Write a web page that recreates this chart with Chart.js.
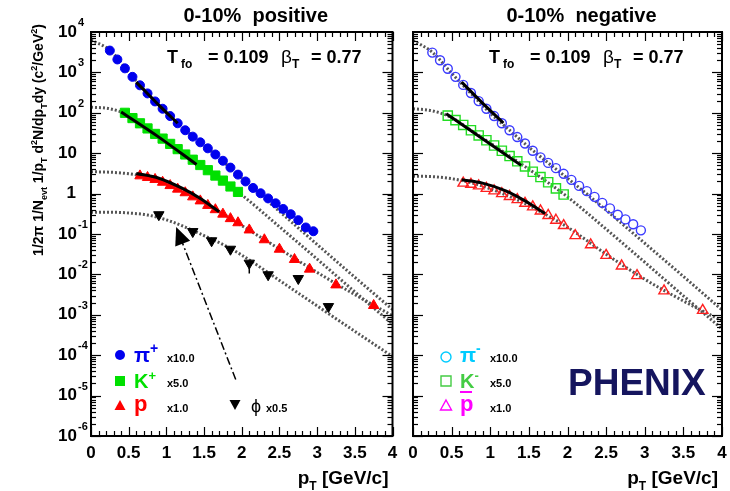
<!DOCTYPE html>
<html lang="en">
<head>
<meta charset="UTF-8">
<title>PHENIX 0-10% identified hadron spectra</title>
<script src="https://cdn.jsdelivr.net/npm/chart.js"></script>
<style>
  body { margin: 0; background: #fff; }
  #wrap { position: relative; width: 730px; height: 491px; }
  canvas { position: absolute; top: 0; }
  #posChart { left: 0; }
  #negChart { left: 400px; }
</style>
</head>
<body>
<div id="wrap">
  <canvas id="posChart" width="400" height="491"></canvas>
  <canvas id="negChart" width="330" height="491"></canvas>
</div>
<script>
// ---- data (pT in GeV/c, yields already scaled as in the legend) ----
const ptPi = [0.25, 0.35, 0.45, 0.55, 0.65, 0.75, 0.85, 0.95, 1.05, 1.15, 1.25, 1.35, 1.45, 1.55,
              1.65, 1.75, 1.85, 1.95, 2.05, 2.15, 2.25, 2.35, 2.45, 2.55, 2.65, 2.75, 2.85, 2.95];
const piPlus = [3470, 2090, 1260, 776, 479, 302, 191, 126, 83, 55, 37, 25.7, 18.6, 13.2,
                9.3, 6.5, 4.4, 2.95, 2.0, 1.38, 1.02, 0.76, 0.575, 0.417, 0.309, 0.22, 0.145, 0.117];
const piMinus = [3090, 2000, 1230, 776, 490, 309, 195, 126, 83, 55, 37, 25.1, 17.4, 11.5,
                 7.9, 5.75, 4.27, 3.09, 2.19, 1.55, 1.15, 0.83, 0.59, 0.43, 0.30, 0.23, 0.174, 0.123];

const ptK = [0.45, 0.55, 0.65, 0.75, 0.85, 0.95, 1.05, 1.15, 1.25, 1.35, 1.45, 1.55, 1.65, 1.75, 1.85, 1.95];
const kPlus = [100, 74, 55, 41, 30, 23, 17, 12.6, 9.3, 6.9, 5.1, 3.8, 2.8, 2.1, 1.5, 1.1];
const kMinus = [85, 66, 50, 37, 27.5, 20.9, 15.5, 11.5, 8.5, 6.3, 4.7, 3.47, 2.57, 1.91, 1.35, 0.95];

const ptP = [0.65, 0.75, 0.85, 0.95, 1.05, 1.15, 1.25, 1.35, 1.45, 1.55, 1.65, 1.75, 1.85, 1.95,
             2.1, 2.3, 2.5, 2.7, 2.9, 3.25, 3.75];
const proton = [2.75, 2.51, 2.24, 1.91, 1.58, 1.29, 1.05, 0.83, 0.66, 0.51, 0.40, 0.31, 0.24, 0.19,
                0.126, 0.072, 0.042, 0.0234, 0.0135, 0.0055, 0.0017];
const antiProton = [1.82, 1.70, 1.55, 1.35, 1.17, 1.0, 0.85, 0.71, 0.575, 0.468, 0.372, 0.288, 0.219, 0.162,
                    0.091, 0.054, 0.0295, 0.0162, 0.0093, 0.0039, 0.00129];

const ptPhi = [0.9, 1.35, 1.6, 1.85, 2.1, 2.35, 2.75, 3.15];
const phiMeson = [0.30, 0.115, 0.068, 0.042, 0.019, 0.0098, 0.0079, 0.0016];
const phiErrPt = [2.1, 2.1];
const phiErrY = [0.019, 0.0105];

// blast-wave curves (dotted) sampled along pT
const ptCurve = [0, 0.25, 0.5, 0.75, 1, 1.25, 1.5, 1.75, 2, 2.5, 3, 3.5, 4];
const curvePiPlus = [6300, 3550, 1000, 302, 100, 38, 15.8, 6.3, 2.4, 0.363, 0.055, 0.0085, 0.00135];
const curveKPlus = [138, 126, 87, 41, 19.5, 9.3, 4.47, 2.09, 0.93, 0.151, 0.024, 0.0037, 0.00059];
const curveProton = [3.47, 3.39, 3.09, 2.57, 1.82, 1.10, 0.60, 0.316, 0.162, 0.0427, 0.0112, 0.00316, 0.00095];
const curvePhi = [0.347, 0.347, 0.331, 0.295, 0.224, 0.148, 0.091, 0.055, 0.030, 0.0071, 0.00166, 0.00039, 0.000093];
const curvePiMinus = [6170, 3160, 955, 302, 98, 37, 14.1, 5.75, 2.4, 0.39, 0.059, 0.0089, 0.00132];
const curveKMinus = [126, 112, 76, 37, 17.8, 8.5, 4.0, 1.86, 0.83, 0.132, 0.020, 0.00295, 0.00045];
const curveAntiP = [2.69, 2.63, 2.34, 1.86, 1.32, 0.85, 0.51, 0.28, 0.148, 0.0316, 0.0076, 0.0022, 0.00071];

// fit ranges (solid black)
const fitPiPlusPt = [0.6, 0.9, 1.15];
const fitPiPlus = [575, 155, 55];
const fitKPlusPt = [0.4, 0.9, 1.4];
const fitKPlus = [105, 25, 5.25];
const fitProtonPt = [0.6, 0.9, 1.2, 1.45, 1.7];
const fitProton = [3.16, 2.4, 1.38, 0.76, 0.355];
const fitPiMinusPt = [0.63, 0.9, 1.17];
const fitPiMinus = [575, 174, 56];
const fitKMinusPt = [0.43, 0.9, 1.4];
const fitKMinus = [95, 22.9, 5.0];
const fitAntiPPt = [0.63, 0.9, 1.2, 1.45, 1.71];
const fitAntiP = [2.19, 1.82, 1.17, 0.66, 0.32];

const xTickValues = [0, 0.5, 1, 1.5, 2, 2.5, 3, 3.5, 4];
const xTickLabels = ['0', '0.5', '1', '1.5', '2', '2.5', '3', '3.5', '4'];
const yDecades = [-6, -5, -4, -3, -2, -1, 0, 1, 2, 3, 4];

// dash-dot arrow pointing at the phi spectrum (tail -> head)
const arrowPt = [1.92, 1.13];
const arrowY = [2.5e-5, 0.15];

const FONT = '"Liberation Sans", Arial, Helvetica, sans-serif';

function toPts(xs, ys) {
    return xs.map((x, i) => ({ x: x, y: ys[i] }));
}

function markers(xs, ys, style, color, filled, radius, rotation) {
    return {
        data: toPts(xs, ys),
        showLine: false,
        pointStyle: style,
        pointRadius: radius,
        pointRotation: rotation || 0,
        pointBackgroundColor: filled ? color : 'rgba(0,0,0,0)',
        pointBorderColor: color,
        pointBorderWidth: filled ? 1 : 1.4,
        order: 2
    };
}

function curve(xs, ys) {
    return {
        data: toPts(xs, ys),
        showLine: true,
        pointRadius: 0,
        borderColor: '#555',
        borderWidth: 3,
        borderDash: [2, 2],
        cubicInterpolationMode: 'monotone',
        order: 3
    };
}

function fitLine(xs, ys) {
    return {
        data: toPts(xs, ys),
        showLine: true,
        pointRadius: 0,
        borderColor: '#000',
        borderWidth: 3,
        cubicInterpolationMode: 'monotone',
        order: 1
    };
}

// text with sub/superscripts: parts = [[text, ''|'sub'|'sup'], ...]
function drawRich(ctx, x, y, parts, size, align, weight) {
    const w = weight || 'bold';
    const widths = parts.map(p => {
        ctx.font = w + ' ' + (p[1] ? Math.round(size * 0.65) : size) + 'px ' + FONT;
        return ctx.measureText(p[0]).width;
    });
    const total = widths.reduce((a, b) => a + b, 0);
    let cx = align === 'center' ? x - total / 2 : align === 'right' ? x - total : x;
    ctx.textAlign = 'left';
    parts.forEach((p, i) => {
        ctx.font = w + ' ' + (p[1] ? Math.round(size * 0.65) : size) + 'px ' + FONT;
        const dy = p[1] === 'sub' ? size * 0.3 : p[1] === 'sup' ? -size * 0.42 : 0;
        ctx.fillText(p[0], cx, y + dy);
        cx += widths[i];
    });
}

function drawMarker(ctx, kind, x, y, color, filled) {
    ctx.save();
    ctx.fillStyle = color;
    ctx.strokeStyle = color;
    ctx.lineWidth = 1.4;
    ctx.beginPath();
    if (kind === 'circle') {
        ctx.arc(x, y, 5, 0, Math.PI * 2);
    } else if (kind === 'square') {
        ctx.rect(x - 5, y - 5, 10, 10);
    } else if (kind === 'up') {
        ctx.moveTo(x, y - 6); ctx.lineTo(x + 5.5, y + 4); ctx.lineTo(x - 5.5, y + 4); ctx.closePath();
    } else {
        ctx.moveTo(x, y + 6); ctx.lineTo(x + 5.5, y - 4); ctx.lineTo(x - 5.5, y - 4); ctx.closePath();
    }
    if (filled) ctx.fill(); else ctx.stroke();
    ctx.restore();
}

function line(ctx, x1, y1, x2, y2) {
    ctx.beginPath();
    ctx.moveTo(x1, y1);
    ctx.lineTo(x2, y2);
    ctx.stroke();
}

const rootAxes = {
    id: 'rootAxes',
    afterDraw(chart, args, opts) {
        const { ctx, chartArea: a, scales: { x, y } } = chart;
        ctx.save();
        ctx.strokeStyle = '#000';
        ctx.lineWidth = 1.2;
        // x ticks, inside, top and bottom
        for (let i = 0; i <= 40; i++) {
            const px = Math.round(x.getPixelForValue(i / 10)) + 0.5;
            const len = i % 5 === 0 ? 9 : 5;
            line(ctx, px, a.bottom, px, a.bottom - len);
            line(ctx, px, a.top, px, a.top + len);
        }
        // y ticks, log decades with minor ticks
        for (let e = -6; e < 4; e++) {
            for (let m = 1; m < 10; m++) {
                const py = Math.round(y.getPixelForValue(m * Math.pow(10, e))) + 0.5;
                const len = m === 1 ? 10 : 5;
                line(ctx, a.left, py, a.left + len, py);
                line(ctx, a.right, py, a.right - len, py);
            }
        }
        ctx.lineWidth = 2;
        ctx.strokeRect(a.left, a.top, a.right - a.left, a.bottom - a.top);

        ctx.fillStyle = '#000';
        ctx.textBaseline = 'middle';
        // x tick labels
        ctx.font = 'bold 17px ' + FONT;
        ctx.textAlign = 'center';
        xTickValues.forEach((v, i) => {
            ctx.fillText(xTickLabels[i], x.getPixelForValue(v), 453);
        });
        // x title
        ctx.textBaseline = 'alphabetic';
        drawRich(ctx, a.right - 4, 484, [['p', ''], ['T', 'sub'], [' [GeV/c]', '']], 19, 'right');

        // panel title
        ctx.font = 'bold 20px ' + FONT;
        ctx.textAlign = 'center';
        ctx.textBaseline = 'middle';
        ctx.fillText(opts.title, (a.left + a.right) / 2 + 14, 16);

        // freeze-out parameters
        ctx.textBaseline = 'alphabetic';
        const tx = a.left + 76;
        drawRich(ctx, tx, 63, [['T', '']], 18, 'left');
        drawRich(ctx, tx + 14, 63, [['fo', 'sub']], 18, 'left');
        drawRich(ctx, tx + 41, 63, [['= 0.109', '']], 18, 'left');
        drawRich(ctx, tx + 114, 63, [['β', '']], 19, 'left', 'normal');
        drawRich(ctx, tx + 125, 63, [['T', 'sub']], 18, 'left');
        drawRich(ctx, tx + 144, 63, [['= 0.77', '']], 18, 'left');

        if (opts.side === 'left') {
            // y tick labels 10^n
            ctx.textBaseline = 'middle';
            yDecades.forEach(e => {
                const py = y.getPixelForValue(Math.pow(10, e));
                ctx.textAlign = 'right';
                ctx.font = 'bold 17px ' + FONT;
                if (e === 0) {
                    ctx.fillText('1', 76, py);
                } else {
                    ctx.fillText('10', 77, py);
                    if (e !== 1) {
                        ctx.textAlign = 'left';
                        ctx.font = 'bold 11px ' + FONT;
                        ctx.fillText(String(e), 78, py - 9);
                    }
                }
            });
            // y title, rotated
            ctx.save();
            ctx.translate(43, 140);
            ctx.rotate(-Math.PI / 2);
            ctx.textBaseline = 'alphabetic';
            drawRich(ctx, 0, 0, [['1/2π 1/N', ''], ['evt', 'sub'], [' 1/p', ''], ['T', 'sub'], [' d', ''],
                ['2', 'sup'], ['N/dp', ''], ['T', 'sub'], ['dy (c', ''], ['2', 'sup'], ['/GeV', ''],
                ['2', 'sup'], [')', '']], 14, 'center');
            ctx.restore();

            // dash-dot arrow towards the phi points
            const x1 = x.getPixelForValue(arrowPt[0]), y1 = y.getPixelForValue(arrowY[0]);
            const x2 = x.getPixelForValue(arrowPt[1]), y2 = y.getPixelForValue(arrowY[1]);
            const ang = Math.atan2(y2 - y1, x2 - x1);
            ctx.save();
            ctx.strokeStyle = '#000';
            ctx.lineWidth = 1.5;
            ctx.setLineDash([8, 3, 2, 3]);
            line(ctx, x1, y1, x2 - 14 * Math.cos(ang), y2 - 14 * Math.sin(ang));
            ctx.setLineDash([]);
            ctx.beginPath();
            ctx.moveTo(x2, y2);
            ctx.lineTo(x2 - 18 * Math.cos(ang) + 8 * Math.sin(ang), y2 - 18 * Math.sin(ang) - 8 * Math.cos(ang));
            ctx.lineTo(x2 - 18 * Math.cos(ang) - 8 * Math.sin(ang), y2 - 18 * Math.sin(ang) + 8 * Math.cos(ang));
            ctx.closePath();
            ctx.fillStyle = '#000';
            ctx.fill();
            ctx.restore();

            // legend
            ctx.textBaseline = 'alphabetic';
            drawMarker(ctx, 'circle', 120, 355, '#0000ee', true);
            ctx.fillStyle = '#0000ee';
            drawRich(ctx, 134, 362, [['π', ''], ['+', 'sup']], 21, 'left');
            drawMarker(ctx, 'square', 120, 381, '#00e000', true);
            ctx.fillStyle = '#00e000';
            drawRich(ctx, 134, 388, [['K', ''], ['+', 'sup']], 20, 'left');
            drawMarker(ctx, 'up', 120, 406, '#ff0000', true);
            ctx.fillStyle = '#ff0000';
            drawRich(ctx, 134, 411, [['p', '']], 22, 'left');
            drawMarker(ctx, 'down', 235, 404, '#000', true);
            ctx.fillStyle = '#000';
            drawRich(ctx, 251, 412, [['ϕ', '']], 18, 'left', 'normal');
            ctx.font = 'bold 11px ' + FONT;
            ctx.textAlign = 'left';
            ctx.fillText('x10.0', 167, 362);
            ctx.fillText('x5.0', 167, 387);
            ctx.fillText('x1.0', 167, 412);
            ctx.fillText('x0.5', 266, 412);
        } else {
            // legend
            ctx.textBaseline = 'alphabetic';
            drawMarker(ctx, 'circle', 46, 357, '#00ccff', false);
            ctx.fillStyle = '#00ccff';
            drawRich(ctx, 60, 362, [['π', ''], ['-', 'sup']], 21, 'left');
            drawMarker(ctx, 'square', 46, 381, '#44cc44', false);
            ctx.fillStyle = '#44cc44';
            drawRich(ctx, 60, 388, [['K', ''], ['-', 'sup']], 20, 'left');
            drawMarker(ctx, 'up', 46, 406, '#ff00ff', false);
            ctx.fillStyle = '#ff00ff';
            drawRich(ctx, 60, 411, [['p', '']], 22, 'left');
            ctx.fillRect(60, 391, 12, 2);
            ctx.fillStyle = '#000';
            ctx.font = 'bold 11px ' + FONT;
            ctx.textAlign = 'left';
            ctx.fillText('x10.0', 90, 362);
            ctx.fillText('x5.0', 90, 387);
            ctx.fillText('x1.0', 90, 412);
            // experiment tag
            ctx.fillStyle = '#15155e';
            ctx.font = 'bold 37px ' + FONT;
            ctx.fillText('PHENIX', 168, 395);
        }
        ctx.restore();
    }
};

function makeChart(id, datasets, side, title, padLeft, padRight) {
    return new Chart(document.getElementById(id).getContext('2d'), {
        type: 'scatter',
        data: { datasets: datasets },
        options: {
            responsive: false,
            animation: false,
            devicePixelRatio: 1,
            layout: { padding: { left: padLeft, right: padRight, top: 32, bottom: 55 } },
            scales: {
                x: { type: 'linear', min: 0, max: 4, display: false },
                y: { type: 'logarithmic', min: 1e-6, max: 1e4, display: false }
            },
            plugins: {
                legend: { display: false },
                tooltip: { enabled: false },
                rootAxes: { side: side, title: title }
            }
        },
        plugins: [rootAxes]
    });
}

makeChart('posChart', [
    curve(ptCurve, curvePiPlus),
    curve(ptCurve, curveKPlus),
    curve(ptCurve, curveProton),
    curve(ptCurve, curvePhi),
    markers(ptPi, piPlus, 'circle', '#0000ee', true, 4.5),
    markers(ptK, kPlus, 'rect', '#00e000', true, 6.5),
    markers(ptP, proton, 'triangle', '#ff0000', true, 6),
    markers(ptPhi, phiMeson, 'triangle', '#000', true, 6, 180),
    { data: toPts(phiErrPt, phiErrY), showLine: true, pointRadius: 0, borderColor: '#000', borderWidth: 1.5, order: 2 },
    fitLine(fitPiPlusPt, fitPiPlus),
    fitLine(fitKPlusPt, fitKPlus),
    fitLine(fitProtonPt, fitProton)
], 'left', '0-10%  positive', 91, 5);

makeChart('negChart', [
    curve(ptCurve, curvePiMinus),
    curve(ptCurve, curveKMinus),
    curve(ptCurve, curveAntiP),
    markers(ptPi, piMinus, 'circle', '#3a3aff', false, 4.5),
    markers(ptK, kMinus, 'rect', '#22dd22', false, 6.5),
    markers(ptP, antiProton, 'triangle', '#ff2020', false, 6),
    fitLine(fitPiMinusPt, fitPiMinus),
    fitLine(fitKMinusPt, fitKMinus),
    fitLine(fitAntiPPt, fitAntiP)
], 'right', '0-10%  negative', 13, 8);
</script>
</body>
</html>
